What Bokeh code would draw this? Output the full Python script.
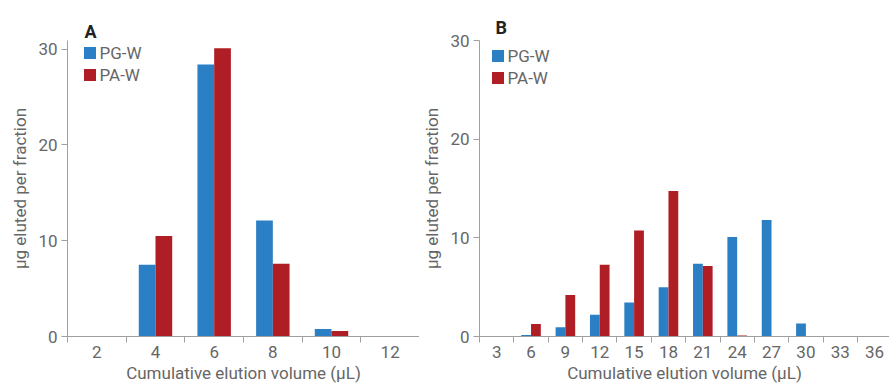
from bokeh.plotting import figure
from bokeh.models import (Range1d, FixedTicker, Legend, LegendItem, Title,
                          LinearAxis, ColumnDataSource)
from bokeh.transform import dodge
from bokeh.layouts import row
from bokeh.embed import file_html
from bokeh.resources import INLINE

# ---------------- data ----------------
vol_a = [2, 4, 6, 8, 10, 12]
pgw_a = [0.0, 7.5, 28.4, 12.1, 0.78, 0.05]
paw_a = [0.0, 10.5, 30.1, 7.6, 0.57, 0.05]

vol_b = [3, 6, 9, 12, 15, 18, 21, 24, 27, 30, 33, 36]
pgw_b = [0.0, 0.14, 0.95, 2.2, 3.45, 5.0, 7.37, 10.08, 11.8, 1.32, 0.0, 0.0]
paw_b = [0.0, 1.26, 4.2, 7.27, 10.75, 14.75, 7.14, 0.1, 0.0, 0.0, 0.0, 0.0]

series_names = ["PG-W", "PA-W"]
y_ticks = [0, 10, 20, 30]
panel_labels = ["A", "B"]
x_title = "Cumulative elution volume (\u00b5L)"
y_title = "\u00b5g eluted per fraction"

BLUE = "#2b80c5"
RED = "#af1e25"
TEXT = "#666666"
AXIS = "#a0a0a0"
FONT = "Roboto"


def make_panel(vols, pg, pa, label, width, height, mb_left, mb_top, frame_h,
               y_end, x_end, legend_xy, label_offset, label_standoff):
    step = vols[1] - vols[0]
    src = ColumnDataSource(dict(x=vols, pg=pg, pa=pa))
    p = figure(width=width, height=height, output_backend="svg",
               toolbar_location=None,
               x_range=Range1d(vols[0] - step / 2, x_end),
               y_range=Range1d(0, y_end),
               min_border_left=mb_left, min_border_right=0,
               min_border_top=mb_top,
               min_border_bottom=height - mb_top - frame_h,
               x_axis_type=None, y_axis_type=None)
    p.outline_line_color = None
    p.background_fill_color = "white"
    p.border_fill_color = "white"

    bw = step * 0.285
    r1 = p.vbar(x=dodge("x", -bw / 2), top="pg", width=bw, source=src,
                fill_color=BLUE, line_color=None)
    r2 = p.vbar(x=dodge("x", bw / 2), top="pa", width=bw, source=src,
                fill_color=RED, line_color=None)

    # x axis: labels at centers, tick marks at category boundaries
    bounds = [v - step / 2 for v in vols] + [vols[-1] + step / 2]
    xa = LinearAxis(ticker=FixedTicker(ticks=vols, minor_ticks=bounds),
                    axis_label=x_title)
    xa.axis_line_color = AXIS
    xa.major_tick_line_color = None
    xa.major_tick_out = 6
    xa.major_tick_in = 0
    xa.minor_tick_line_color = AXIS
    xa.minor_tick_out = 6
    xa.minor_tick_in = 0
    xa.major_label_standoff = 3
    xa.major_label_text_font = FONT
    xa.major_label_text_font_size = "17px"
    xa.major_label_text_color = TEXT
    xa.major_label_text_line_height = 0.7
    xa.axis_label_text_font = FONT
    xa.axis_label_text_font_size = "17px"
    xa.axis_label_text_font_style = "normal"
    xa.axis_label_text_color = TEXT
    xa.axis_label_text_line_height = 0.7
    xa.axis_label_standoff = 2
    p.add_layout(xa, "below")

    ya = LinearAxis(ticker=FixedTicker(ticks=y_ticks, minor_ticks=[]),
                    axis_label=y_title)
    ya.axis_line_color = AXIS
    ya.major_tick_line_color = AXIS
    ya.major_tick_out = 6
    ya.major_tick_in = 0
    ya.minor_tick_line_color = None
    ya.major_label_standoff = 4
    ya.major_label_text_font = FONT
    ya.major_label_text_font_size = "17px"
    ya.major_label_text_color = TEXT
    ya.axis_label_text_font = FONT
    ya.axis_label_text_font_size = "17px"
    ya.axis_label_text_font_style = "normal"
    ya.axis_label_text_color = TEXT
    ya.axis_label_text_line_height = 1.0
    ya.axis_label_standoff = 5
    p.add_layout(ya, "left")

    legend = Legend(items=[LegendItem(label=series_names[0], renderers=[r1]),
                           LegendItem(label=series_names[1], renderers=[r2])],
                    location=legend_xy, padding=0, margin=0, spacing=2,
                    glyph_width=15, glyph_height=15, label_height=20,
                    label_standoff=3, border_line_color=None,
                    background_fill_alpha=0,
                    label_text_font=FONT, label_text_font_size="17px",
                    label_text_color=TEXT)
    p.add_layout(legend, "center")

    t = Title(text=label, align="left", offset=label_offset,
              standoff=label_standoff, text_font=FONT, text_font_size="18px",
              text_font_style="bold", text_color="#222222",
              text_line_height=1.0)
    p.add_layout(t, "above")
    return p


p1 = make_panel(vol_a, pgw_a, paw_a, panel_labels[0], width=419, height=387,
                mb_left=67, mb_top=31, frame_h=307, y_end=30.9, x_end=13,
                legend_xy=(14.5, 251.5), label_offset=17, label_standoff=-2)
p2 = make_panel(vol_b, pgw_b, paw_b, panel_labels[1], width=470, height=387,
                mb_left=57, mb_top=40, frame_h=296, y_end=30, x_end=37.3,
                legend_xy=(10.5, 248.5), label_offset=16, label_standoff=5)

layout = row(p1, p2)
open("out.html", "w").write(file_html(layout, INLINE))
